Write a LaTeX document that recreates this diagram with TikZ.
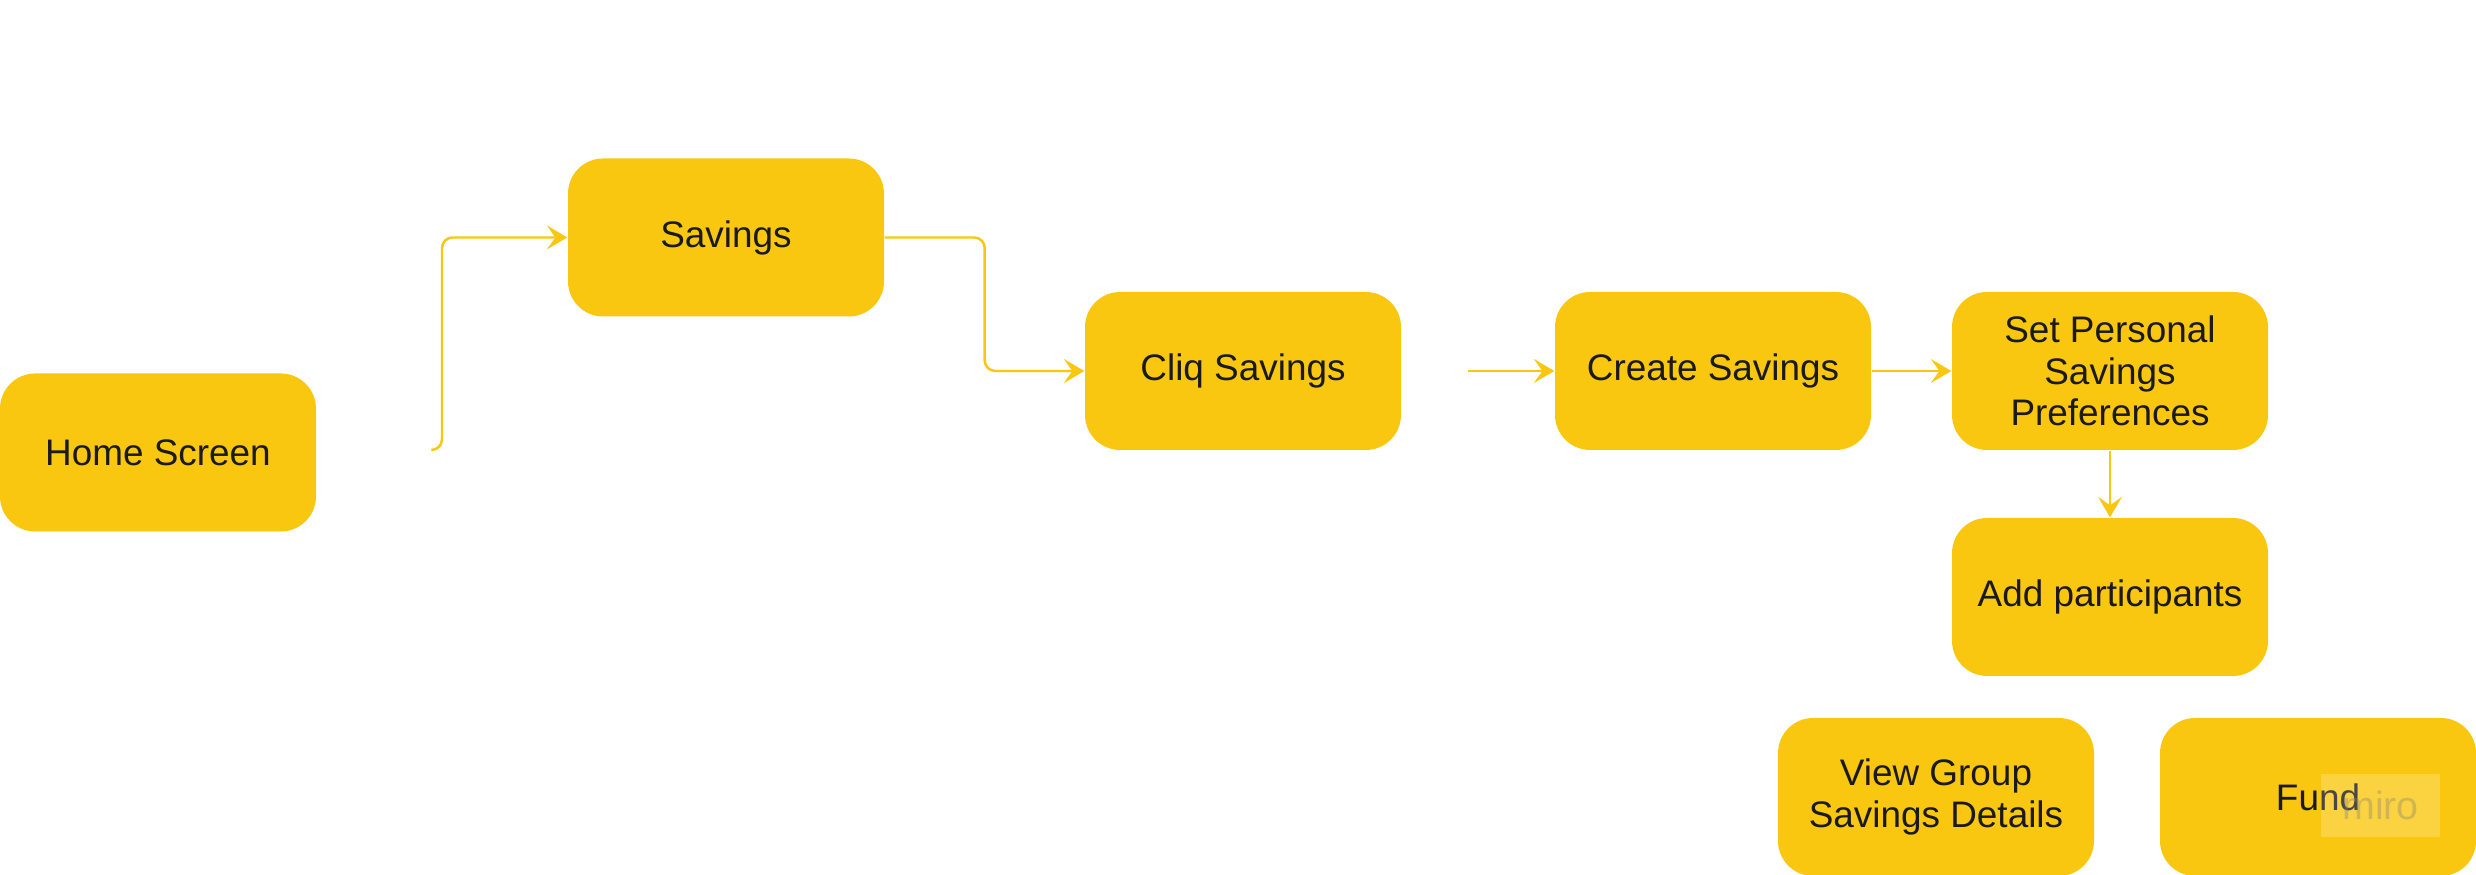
\documentclass[tikz,border=0pt]{standalone}
\usepackage{fontspec}
\setmainfont{Liberation Sans}
\usepackage{xcolor}
\usepackage{tikz}
\usetikzlibrary{arrows.meta}
\definecolor{miroyellow}{HTML}{FAC710}
\definecolor{inkdark}{HTML}{1A1A1A}

\begin{document}
\begin{tikzpicture}[every node/.style={font=\fontsize{10.5}{11.8}\selectfont, text=inkdark},
			scr/.style={fill=miroyellow, rounded corners=10pt, minimum width=3.16cm, minimum height=1.58cm, align=center, inner sep=2pt},
			lk/.style={miroyellow, line width=0.7pt, rounded corners=3pt, -{Stealth[length=5.8pt, width=6.8pt, inset=2.4pt]}}]
			\useasboundingbox (0,0) rectangle (24.76,8.75);
			\node[scr] (home)   at (1.58,4.225)  {Home Screen};
			\node[scr] (sav)    at (7.26,6.375)  {Savings};
			\node[scr] (cliq)   at (12.43,5.04)  {Cliq Savings};
			\node[scr] (create) at (17.13,5.04)  {Create Savings};
			\node[scr] (pref)   at (21.10,5.04)  {Set Personal\\Savings\\Preferences};
			\node[scr] (add)    at (21.10,2.78)  {Add participants};
			\node[scr] (view)   at (19.36,0.78)  {View Group\\Savings Details};
			\node[scr] (fund)   at (23.18,0.78)  {Fund};
			% loose ends left over on the board
			\coordinate (h0) at (4.32,4.25);
			\coordinate (c0) at (14.68,5.04);
			\draw[lk] (h0) -- ++(0.1,0) |- (sav.west);
			\draw[lk] (sav.east) -- ++(1.0,0) |- (cliq.west);
			\draw[lk] (c0) -- (create.west);
			\foreach \x/\y in {create.east/pref.west, pref.south/add.north}
				\draw[lk] (\x) -- (\y);
			% watermark
			\node[fill=white, fill opacity=0.2, text opacity=0.35, text=gray, minimum width=1.19cm, minimum height=0.63cm, inner sep=0pt, font=\fontsize{11.2}{12}\selectfont] (wm) at (23.805,0.695) {miro};
		\end{tikzpicture}
\end{document}
